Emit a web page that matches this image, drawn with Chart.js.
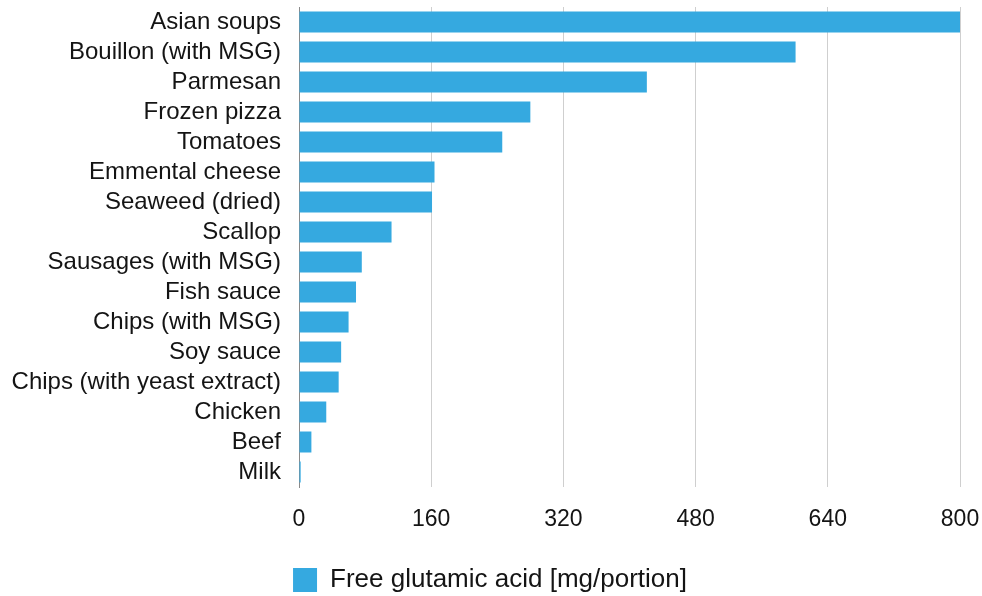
<!DOCTYPE html>
<html>
<head>
<meta charset="utf-8">
<script src="https://cdn.jsdelivr.net/npm/chart.js@4.4.0/dist/chart.umd.min.js"></script>
<style>
  html, body { margin: 0; padding: 0; background: #fff; }
  #wrap { width: 982px; height: 596px; }
</style>
</head>
<body>
<div id="wrap"><canvas id="bars"></canvas></div>
<script>
const foods = [
  "Asian soups", "Bouillon (with MSG)", "Parmesan", "Frozen pizza", "Tomatoes",
  "Emmental cheese", "Seaweed (dried)", "Scallop", "Sausages (with MSG)", "Fish sauce",
  "Chips (with MSG)", "Soy sauce", "Chips (with yeast extract)", "Chicken", "Beef", "Milk"
];
const glutamate = [800, 601, 421, 280, 246, 164, 161, 112, 76, 69, 60, 51, 48, 33, 15, 2];
const xTicks = [0, 160, 320, 480, 640, 800];
const seriesName = "Free glutamic acid [mg/portion]";

const font = "Helvetica, Arial, 'Liberation Sans', sans-serif";

// drop the label overhang padding so layout.padding alone places the plot
const noOverhang = (scale) => {
  scale.paddingTop = 0;
  scale.paddingBottom = 0;
  scale.paddingLeft = 0;
  scale.paddingRight = 0;
};

// the legend is centred on the whole canvas, not on the padded box
const legendNudge = {
  id: "legendNudge",
  afterLayout(chart) {
    if (chart.legend) chart.legend.left += 20;
  },
};

new Chart(document.getElementById("bars"), {
  type: "bar",
  data: {
    labels: foods,
    datasets: [
      {
        label: seriesName,
        data: glutamate,
        backgroundColor: "#35a9e0",
        borderWidth: 0,
        barPercentage: 0.7,
        categoryPercentage: 1,
      },
    ],
  },
  options: {
    indexAxis: "y",
    responsive: true,
    maintainAspectRatio: false,
    animation: false,
    layout: {
      autoPadding: false,
      padding: { top: 7, right: 22, left: 0, bottom: -7 },
    },
    scales: {
      x: {
        min: 0,
        max: 800,
        afterBuildTicks: (scale) => {
          scale.ticks = xTicks.map((v) => ({ value: v }));
        },
        afterFit: (scale) => {
          noOverhang(scale);
          scale.height = 78;
        },
        grid: { color: "#cfcfcf", drawTicks: false },
        border: { display: false },
        ticks: {
          padding: 19,
          color: "#141414",
          font: { family: font, size: 23 },
        },
      },
      y: {
        afterFit: (scale) => {
          noOverhang(scale);
          scale.width = 299;
        },
        grid: { display: false, drawTicks: false },
        border: { display: true, color: "#8a8a8a", width: 1 },
        ticks: {
          autoSkip: false,
          padding: 18,
          color: "#141414",
          font: { family: font, size: 24 },
        },
      },
    },
    plugins: {
      legend: {
        position: "bottom",
        labels: {
          boxWidth: 24,
          boxHeight: 24,
          padding: 2,
          color: "#141414",
          font: { family: font, size: 26 },
        },
      },
      tooltip: { enabled: false },
    },
  },
  plugins: [legendNudge],
});
</script>
</body>
</html>
